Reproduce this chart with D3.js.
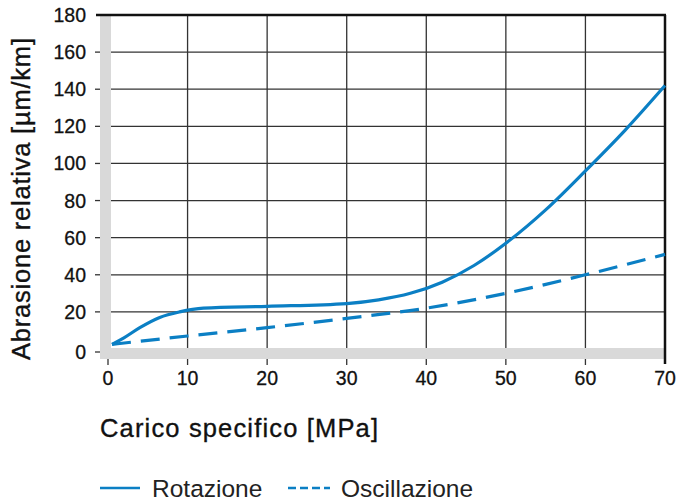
<!DOCTYPE html>
<html><head><meta charset="utf-8">
<script src="https://cdn.jsdelivr.net/npm/d3@7"></script>
<style>body{margin:0;background:#fff;} svg{display:block;font-family:"Liberation Sans",Arial,Helvetica,sans-serif;}</style>
</head><body>
<svg id="c" width="678" height="502"></svg>
<script>
const rotX = [0.5, 2, 4, 6.5, 9, 12, 20, 30, 34, 38, 42, 46, 50, 55, 60, 65, 70];
const rotY = [2.5, 6, 11.5, 17, 20, 22, 23, 24.5, 26.5, 30, 36, 45, 57, 75, 96, 118, 142];
const oscX = [0.5, 10, 20, 30, 40, 50, 60, 70];
const oscY = [2.5, 7, 11.5, 16.5, 22, 30, 40, 51];
const xTicks = [0, 10, 20, 30, 40, 50, 60, 70];
const yTicks = [0, 20, 40, 60, 80, 100, 120, 140, 160, 180];
const seriesNames = ["Rotazione", "Oscillazione"];
const xTitle = "Carico specifico [MPa]";
const yTitle = "Abrasione relativa [µm/km]";

const blue = "#0b7fc4";
const svg = d3.select("#c");
const x = d3.scaleLinear().domain([0, 70]).range([108, 665]);
const y = d3.scaleLinear().domain([0, 180]).range([349, 15]);

// gray bands
svg.append("rect").attr("x", 100).attr("y", 16).attr("width", 11).attr("height", 343).attr("fill", "#d9d9d9");
svg.append("rect").attr("x", 100).attr("y", 348).attr("width", 564).attr("height", 11).attr("fill", "#d9d9d9");

// grid
svg.append("g").selectAll("line").data(xTicks.filter(d => d > 0 && d < 70)).join("line")
  .attr("x1", d => x(d)).attr("x2", d => x(d)).attr("y1", y(180)).attr("y2", 348)
  .attr("stroke", "#333").attr("stroke-width", 1.3);
svg.append("g").selectAll("line").data(yTicks.filter(d => d > 0 && d < 180)).join("line")
  .attr("x1", 111).attr("x2", x(70)).attr("y1", d => y(d)).attr("y2", d => y(d))
  .attr("stroke", "#333").attr("stroke-width", 1.3);

// borders
svg.append("line").attr("x1", 96).attr("x2", 666).attr("y1", y(180)).attr("y2", y(180)).attr("stroke", "#111").attr("stroke-width", 2.5);
svg.append("line").attr("x1", x(70)).attr("x2", x(70)).attr("y1", y(180)).attr("y2", 364).attr("stroke", "#111").attr("stroke-width", 2.5);

// y ticks
const yt = svg.append("g");
yt.selectAll("line").data(yTicks.filter(d => d < 180)).join("line")
  .attr("x1", 95).attr("x2", 100).attr("y1", d => d === 0 ? 352 : y(d)).attr("y2", d => d === 0 ? 352 : y(d))
  .attr("stroke", "#333").attr("stroke-width", 1.3);
yt.selectAll("text").data(yTicks).join("text")
  .attr("x", 86).attr("y", d => d === 0 ? 352 : y(d)).attr("dy", "0.36em")
  .attr("text-anchor", "end").attr("font-size", 19.5).attr("fill", "#111")
  .attr("stroke", "#111").attr("stroke-width", 0.3).text(d => d);

// x ticks
const xt = svg.append("g");
xt.selectAll("line").data(xTicks.filter(d => d < 70)).join("line")
  .attr("x1", d => x(d)).attr("x2", d => x(d)).attr("y1", 359).attr("y2", 365)
  .attr("stroke", "#333").attr("stroke-width", 1.3);
xt.selectAll("text").data(xTicks).join("text")
  .attr("x", d => x(d)).attr("y", 385).attr("text-anchor", "middle")
  .attr("font-size", 19.5).attr("fill", "#111")
  .attr("stroke", "#111").attr("stroke-width", 0.3).text(d => d);

// titles
svg.append("text").attr("x", 100).attr("y", 437).attr("font-size", 25.5).attr("fill", "#111")
  .attr("stroke", "#111").attr("stroke-width", 0.35).attr("textLength", 278).attr("lengthAdjust", "spacing").text(xTitle);
svg.append("text").attr("transform", "translate(30,199) rotate(-90)").attr("text-anchor", "middle")
  .attr("font-size", 25.5).attr("fill", "#111").attr("stroke", "#111").attr("stroke-width", 0.35)
  .attr("textLength", 322).attr("lengthAdjust", "spacing").text(yTitle);

// lines
const line = d3.line().x(d => x(d[0])).y(d => y(d[1])).curve(d3.curveMonotoneX);
svg.append("path").datum(d3.zip(rotX, rotY)).attr("d", line)
  .attr("fill", "none").attr("stroke", blue).attr("stroke-width", 3.2);
svg.append("path").datum(d3.zip(oscX, oscY)).attr("d", line)
  .attr("fill", "none").attr("stroke", blue).attr("stroke-width", 3.2).attr("stroke-dasharray", "19,10");

// legend
const lg = svg.append("g");
lg.append("line").attr("x1", 100).attr("x2", 140).attr("y1", 488).attr("y2", 488).attr("stroke", blue).attr("stroke-width", 2.5);
lg.append("text").attr("x", 152).attr("y", 497).attr("font-size", 24.5).attr("fill", "#222").text(seriesNames[0]);
lg.append("line").attr("x1", 288).attr("x2", 330).attr("y1", 488).attr("y2", 488).attr("stroke", blue).attr("stroke-width", 2.5).attr("stroke-dasharray", "8,4");
lg.append("text").attr("x", 341).attr("y", 497).attr("font-size", 24.5).attr("fill", "#222").text(seriesNames[1]);
</script>
</body></html>
